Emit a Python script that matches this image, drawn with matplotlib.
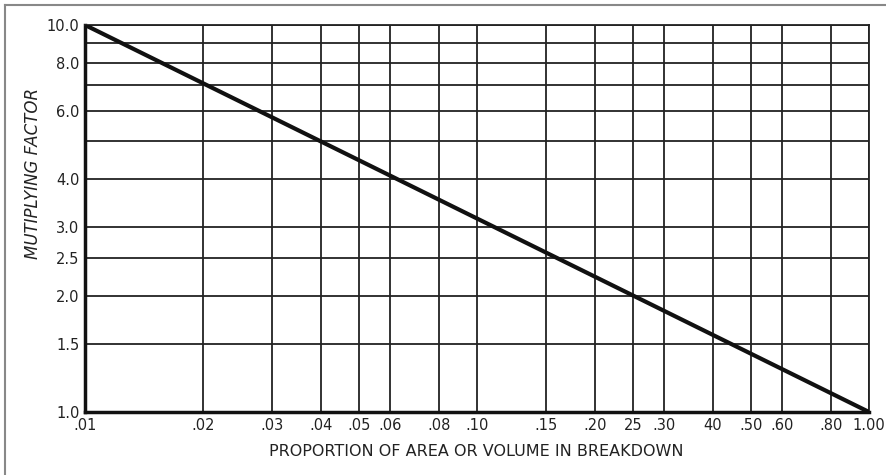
import matplotlib
matplotlib.use("Agg")
from matplotlib import pyplot as plt
from matplotlib.lines import Line2D

# Data
line_x = [0.01, 1.00]
line_y = [10.0, 1.0]

x_ticks = [0.01, 0.02, 0.03, 0.04, 0.05, 0.06, 0.08, 0.10, 0.15, 0.20,
           0.25, 0.30, 0.40, 0.50, 0.60, 0.80, 1.00]
x_labels = [".01", ".02", ".03", ".04", ".05", ".06", ".08", ".10", ".15",
            ".20", "25", ".30", "40", ".50", ".60", ".80", "1.00"]

y_ticks = [1.0, 1.5, 2.0, 2.5, 3.0, 4.0, 6.0, 8.0, 10.0]
y_labels = ["1.0", "1.5", "2.0", "2.5", "3.0", "4.0", "6.0", "8.0", "10.0"]
y_grid = [1.0, 1.5, 2.0, 2.5, 3.0, 4.0, 5.0, 6.0, 7.0, 8.0, 9.0, 10.0]

plt.rcParams['font.family'] = ['DejaVu Sans']

fig = plt.figure(figsize=(8.87, 4.75), dpi=100)
ax = fig.add_axes([85 / 887, 1 - 412 / 475, 784 / 887, 387 / 475])

ax.set_xscale('log')
ax.set_yscale('log')
ax.set_xlim(0.01, 1.0)
ax.set_ylim(1.0, 10.0)

# Grid lines
for gx in x_ticks:
    ax.axvline(gx, color='#222222', linewidth=1.3, zorder=1)
for gy in y_grid:
    ax.axhline(gy, color='#222222', linewidth=1.3, zorder=1)

# Main line
ax.plot(line_x, line_y, color='#111111', linewidth=3, zorder=3,
        solid_capstyle='butt')

ax.set_xticks(x_ticks)
ax.set_xticklabels(x_labels)
ax.set_yticks(y_ticks)
ax.set_yticklabels(y_labels)
ax.minorticks_off()
ax.tick_params(length=0, pad=4, labelsize=10.5, colors='#222222')

for side in ['left', 'bottom']:
    ax.spines[side].set_linewidth(2.5)
    ax.spines[side].set_color('#111111')
for side in ['top', 'right']:
    ax.spines[side].set_linewidth(1.3)
    ax.spines[side].set_color('#222222')

fig.text(476 / 887, 1 - 452 / 475, "PROPORTION OF AREA OR VOLUME IN BREAKDOWN",
         ha='center', va='center', fontsize=11.5, color='#222222')
fig.text(33 / 887, 1 - 173 / 475, "MUTIPLYING FACTOR", rotation=90,
         ha='center', va='center', fontsize=12, style='italic', color='#222222')

# Scan border on top and left
fig.add_artist(Line2D([5 / 887, 1.0], [1 - 5 / 475, 1 - 5 / 475],
                      transform=fig.transFigure, color='#888888', linewidth=1.5))
fig.add_artist(Line2D([5 / 887, 5 / 887], [0.0, 1 - 5 / 475],
                      transform=fig.transFigure, color='#888888', linewidth=1.5))

fig.savefig("out.png", dpi=100)
